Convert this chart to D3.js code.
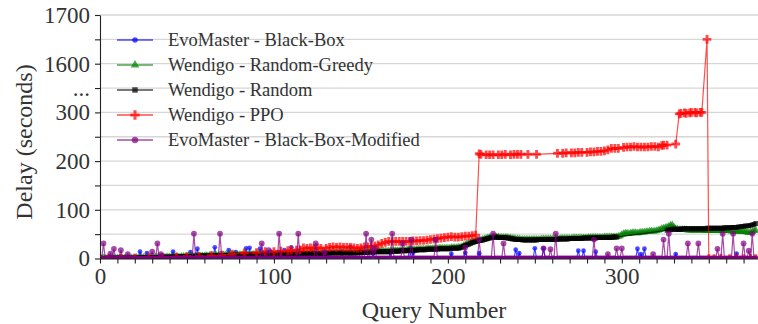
<!DOCTYPE html>
<html lang="en">
<head>
<meta charset="UTF-8">
<title>Delay per Query</title>
<script src="https://cdnjs.cloudflare.com/ajax/libs/d3/7.8.5/d3.min.js"></script>
<style>
  body { margin: 0; background: #fff; }
  svg { display: block; font-family: 'Liberation Serif', 'DejaVu Serif', serif; color: #222; }
  .grid line { stroke: #d6d6d6; stroke-width: 1.3; }
  .axis path, .axis line { stroke: #222; stroke-width: 1.1; }
  .axis text { font-size: 23px; fill: #333; font-family: 'Liberation Serif', serif; }
  .legend text { font-size: 18.5px; fill: #333; }
</style>
</head>
<body>
<div id="chart"></div>
<script>
// ---- data ----
// EvoMaster - Black-Box, one value per query 0..377
var blackBox = [
  0,0,0,0,0,0,0,0,0,0,0,0,0,0,0,0,0,0,0,0,
  0,0,0,14,0,0,0,11,0,0,0,0,0,0,0,0,0,0,0,0,
  0,0,14,0,0,0,0,0,0,0,0,0,13,0,0,0,20,0,0,0,
  0,0,0,0,0,0,23,0,0,0,0,0,0,0,17,0,0,0,13,0,
  0,0,0,0,21,0,22,0,0,0,0,0,20,0,0,0,0,0,14,0,
  0,0,0,0,0,0,17,0,0,0,23,0,0,0,0,0,0,0,0,11,
  0,0,14,0,0,0,0,0,0,0,0,0,0,0,0,0,0,0,0,14,
  0,0,0,0,24,0,0,0,0,0,17,0,0,0,0,0,0,11,0,0,
  0,0,0,0,0,0,0,13,0,0,0,0,0,0,0,0,0,0,21,0,
  12,0,0,0,0,0,0,0,0,0,0,0,0,0,0,0,0,0,0,0,
  0,0,10,0,0,0,0,0,0,0,12,0,0,0,0,0,0,0,11,0,
  0,0,0,0,0,0,0,0,0,0,0,0,0,0,0,0,0,0,0,18,
  0,11,0,0,0,0,0,0,0,0,21,0,0,0,0,21,0,0,0,0,
  0,0,0,0,0,0,0,0,0,0,0,0,0,0,0,16,0,0,16,0,
  0,0,0,0,0,14,0,0,0,0,0,0,0,0,0,0,0,0,0,0,
  0,0,0,0,0,0,0,0,0,20,0,9,0,20,0,0,0,0,0,0,
  0,0,0,0,0,0,0,0,0,0,0,9,0,0,0,0,0,0,0,0,
  0,0,0,0,0,0,0,0,0,0,0,0,0,0,0,0,0,0,0,0,
  0,0,0,0,0,0,10,0,0,0,0,0,0,0,0,0,0,0
];

// Wendigo - Random-Greedy
var randomGreedy = [
  0,0,1,0,0,1,0,1,1,0,1,1,1,0,1,1,1,1,1,1,
  1,2,1,1,2,2,1,2,2,2,2,2,3,2,2,3,3,2,3,3,
  3,3,3,3,4,3,3,4,4,4,4,4,5,4,4,5,5,5,5,5,
  5,6,5,6,6,6,6,6,6,7,6,7,7,7,7,7,7,7,8,7,
  8,8,8,8,8,8,8,8,9,8,9,9,9,9,9,9,9,9,9,9,
  9,9,9,9,10,9,10,10,10,10,10,10,10,10,10,10,10,10,11,11,
  11,11,11,11,11,11,11,11,11,11,11,11,11,12,12,12,12,12,12,12,
  12,12,12,12,12,12,12,13,13,13,13,13,13,13,14,14,14,14,14,15,
  15,15,15,15,15,15,15,16,16,16,16,16,16,17,17,17,17,17,18,18,
  18,18,18,19,19,19,19,19,20,20,20,20,20,20,20,21,21,21,21,21,
  21,21,22,22,22,22,23,23,24,26,28,30,31,32,34,35,36,37,38,38,
  39,40,41,42,43,43,44,44,44,44,43,43,43,43,43,42,42,41,41,40,
  40,40,39,39,39,39,39,39,39,39,39,39,39,39,40,40,40,40,40,40,
  40,40,40,40,40,41,41,41,41,41,41,41,42,42,42,42,42,42,42,42,
  42,43,43,43,43,43,43,43,43,43,44,44,44,44,44,44,44,44,45,46,
  49,51,52,52,51,52,53,53,53,52,53,54,54,54,55,55,56,56,56,56,
  57,58,59,61,62,63,64,66,68,69,64,61,60,59,59,59,59,59,58,58,
  58,58,58,58,58,58,58,58,57,57,57,57,57,57,57,57,57,57,57,57,
  57,57,57,56,56,56,56,56,55,55,55,55,54,53,54,55,57,58
];

// Wendigo - Random (null = no result for that query)
var random = [
  0,0,0,0,1,0,0,1,0,1,1,0,1,1,0,1,1,1,0,1,
  1,1,1,2,1,2,2,1,2,2,2,2,2,2,2,3,2,3,3,2,
  3,3,3,3,3,3,4,3,4,4,4,4,4,4,5,4,5,5,5,5,
  5,5,5,5,6,5,6,6,6,6,6,6,6,7,6,7,7,7,7,7,
  7,7,7,7,8,7,8,8,8,8,8,8,8,8,8,9,8,9,9,9,
  9,9,9,9,9,9,9,9,9,9,9,9,9,9,9,9,10,10,10,10,
  10,10,10,10,10,10,10,10,10,10,11,11,11,11,11,11,11,11,11,11,
  11,11,11,11,11,11,11,11,11,12,12,12,12,12,12,13,13,13,13,14,
  14,14,14,14,14,14,14,14,15,15,15,15,15,16,16,16,16,16,17,17,
  17,17,17,18,18,18,18,18,19,19,19,19,19,19,19,20,20,20,20,20,
  20,20,21,21,21,21,21,22,23,25,27,28,29,31,33,34,35,36,37,37,
  38,39,40,41,42,43,43,44,44,43,43,43,43,43,42,42,41,40,40,39,
  39,39,39,38,38,38,38,38,38,38,38,38,39,39,39,39,39,39,39,39,
  39,39,39,40,40,40,40,40,40,40,41,41,41,41,41,41,41,41,42,42,
  42,42,42,42,42,42,43,43,43,43,43,43,43,43,43,44,44,44,null,null,
  null,null,null,null,null,null,null,null,null,null,null,null,null,null,null,null,null,null,null,null,
  null,null,null,null,null,null,58,59,59,60,60,60,60,60,60,61,61,61,61,61,
  61,61,61,61,61,61,61,61,61,62,62,62,62,62,62,62,62,62,62,63,
  63,63,63,64,64,64,64,65,65,66,66,67,67,67,68,69,70,72
];

// Wendigo - PPO, [query, delay]
var ppo = [
  [0,0],[5,0],[12,1],[20,1],[28,2],[36,2],[44,3],[50,4],[57,4],[64,6],[70,7],[76,9],[83,11],[90,12],
  [95,14],[100,14],[104,15],[108,16],[110,17],[113,17],[115,18],[117,22],[119,21],[121,22],[123,21],
  [125,22],[127,21],[130,21],[132,23],[134,24],[136,23],[138,24],[140,23],[142,23],[144,23],[146,22],
  [148,21],[150,22],[152,24],[154,24],[156,25],[158,26],[160,28],[162,31],[164,33],[166,35],[168,35],
  [170,35],[172,35],[174,35],[176,35],[178,35],[180,36],[182,36],[184,37],[186,37],[188,38],[190,39],
  [192,40],[194,41],[196,42],[198,43],[200,44],[202,45],[204,44],[206,44],[208,45],[210,46],[212,46],
  [214,47],[216,48],
  [218,215],[219,214],[222,213],[224,213],[226,213],[229,213],[231,213],[233,214],[236,213],[238,214],
  [240,214],[242,214],[246,214],[251,214],[263,216],[266,216],[268,217],[271,217],[273,217],[275,218],
  [277,218],[280,218],[282,219],[284,219],[286,220],[288,220],[290,221],[292,223],[294,226],[296,226],
  [298,226],[301,228],[303,229],[305,229],[307,230],[309,229],[311,229],[313,229],[315,229],[317,230],
  [319,230],[321,229],[323,232],[324,233],[326,233],[331,235],
  [333,297],[334,298],[336,299],[337,298],[339,299],[340,300],[342,300],[343,299],[345,300],[346,300],
  [349,1650],[350,0],[353,0],[357,1],[362,0],[366,1],[370,0],[374,1],[377,0]
];

// EvoMaster - Black-Box-Modified, one value per query 0..377
var blackBoxModified = [
  0,0,31,0,0,0,10,0,20,0,0,0,17,0,0,0,9,0,0,0,
  0,0,0,0,0,0,0,0,0,0,14,0,0,31,0,9,0,0,0,0,
  0,0,0,0,0,0,0,0,0,0,0,0,0,0,51,0,0,0,0,0,
  0,0,0,0,0,0,0,0,0,51,0,0,0,0,0,0,0,0,0,0,
  0,0,0,0,0,0,0,0,0,0,0,0,0,31,0,0,0,17,0,0,
  0,0,0,51,0,0,0,0,0,0,0,0,0,0,51,0,0,0,0,0,
  0,0,0,0,31,0,0,0,0,13,0,0,0,0,0,0,0,0,0,0,
  0,0,0,0,0,0,0,0,0,0,0,0,0,51,0,0,39,0,21,0,
  0,0,0,0,0,0,0,0,51,0,0,0,0,0,31,0,0,0,0,39,
  0,0,0,0,0,0,0,0,0,0,0,0,0,39,0,0,0,0,0,0,
  0,0,0,0,0,0,0,0,0,0,23,0,0,0,0,0,0,0,39,0,
  0,0,0,0,0,0,51,0,0,0,0,0,31,0,0,0,0,0,0,0,
  0,0,0,0,0,0,0,0,0,0,0,0,0,0,0,21,0,0,0,19,
  0,0,51,0,0,0,0,0,0,0,0,0,0,0,0,0,0,0,0,0,
  0,0,0,0,39,0,0,0,0,0,0,0,9,0,0,0,0,21,0,0,
  21,0,0,0,0,0,0,0,0,0,0,0,0,0,0,0,0,0,9,0,
  0,0,0,0,39,0,0,51,0,0,0,0,0,0,0,0,0,0,31,0,
  0,0,0,0,31,0,0,0,0,0,0,0,0,0,0,20,0,0,51,0,
  0,0,0,0,51,0,0,0,0,0,31,0,0,16,0,51,0,0
];

var seriesNames = ["EvoMaster - Black-Box", "Wendigo - Random-Greedy", "Wendigo - Random",
                   "Wendigo - PPO", "EvoMaster - Black-Box-Modified"];

// y axis is broken between 300 and 1550
var yTickValues = [0, 50, 100, 150, 200, 250, 300, 1550, 1600, 1650, 1700];
var yTickLabels = {0: "0", 100: "100", 200: "200", 300: "300", 1550: "...", 1600: "1600", 1700: "1700"};
var xTickValues = d3.range(0, 371, 10);
var xTickLabels = [0, 100, 200, 300];

// ---- layout ----
var width = 758, height = 324;
var plotLeft = 100, plotTop = 15, plotBottom = 258.5, plotRight = 758;
var step = (plotBottom - plotTop) / 10;

var x = d3.scaleLinear().domain([0, 378.3]).range([plotLeft, plotRight]);
var y = d3.scaleLinear()
    .domain([0, 300, 1550, 1700])
    .range([plotBottom, plotBottom - 6 * step, plotBottom - 7 * step, plotTop]);

var svg = d3.select("#chart").append("svg")
    .attr("width", width)
    .attr("height", height);

svg.append("defs").append("clipPath").attr("id", "plotclip")
  .append("rect")
    .attr("x", plotLeft).attr("y", plotTop - 2)
    .attr("width", plotRight - plotLeft).attr("height", plotBottom - plotTop + 2);

// gridlines
svg.append("g").attr("class", "grid")
  .selectAll("line")
  .data(yTickValues)
  .enter().append("line")
    .attr("x1", plotLeft).attr("x2", plotRight)
    .attr("y1", function(d) { return y(d); })
    .attr("y2", function(d) { return y(d); });

// series
function toPoints(arr) {
    var pts = [];
    arr.forEach(function(v, i) { if (v !== null) pts.push([i, v]); });
    return pts;
}

var series = [
    {name: seriesNames[0], color: "#0000ff", symbol: d3.symbolCircle, size: 18, points: toPoints(blackBox)},
    {name: seriesNames[1], color: "#008000", symbol: d3.symbolTriangle, size: 26, points: toPoints(randomGreedy)},
    {name: seriesNames[2], color: "#000000", symbol: d3.symbolSquare, size: 24, points: toPoints(random)},
    {name: seriesNames[3], color: "#ff0000", symbol: d3.symbolCross, size: 42, points: ppo},
    {name: seriesNames[4], color: "#800080", symbol: d3.symbolCircle, size: 26, points: toPoints(blackBoxModified)}
];

var line = d3.line()
    .x(function(d) { return x(d[0]); })
    .y(function(d) { return y(d[1]); });

var plot = svg.append("g").attr("clip-path", "url(#plotclip)");

series.forEach(function(s) {
    var g = plot.append("g");
    g.append("path")
        .datum(s.points)
        .attr("d", line)
        .attr("fill", "none")
        .attr("stroke", s.color)
        .attr("stroke-opacity", 0.7)
        .attr("stroke-width", 1.2);
    g.selectAll("path.mark")
        .data(s.points)
        .enter().append("path")
        .attr("class", "mark")
        .attr("d", d3.symbol().type(s.symbol).size(s.size))
        .attr("transform", function(d) { return "translate(" + x(d[0]) + "," + y(d[1]) + ")"; })
        .attr("fill", s.color)
        .attr("fill-opacity", 0.7);
});

// axes
var yAxis = d3.axisLeft(y)
    .tickValues(yTickValues)
    .tickFormat(function(d) { return yTickLabels[d] || ""; })
    .tickSize(5).tickSizeOuter(0).tickPadding(5);
svg.append("g").attr("class", "axis")
    .attr("transform", "translate(" + plotLeft + ",0)")
    .call(yAxis);

var xAxis = d3.axisBottom(x)
    .tickValues(xTickValues)
    .tickFormat(function(d) { return xTickLabels.indexOf(d) >= 0 ? d : ""; })
    .tickSize(5).tickSizeOuter(0).tickPadding(4);
svg.append("g").attr("class", "axis")
    .attr("transform", "translate(0," + plotBottom + ")")
    .call(xAxis);

// axis titles
svg.append("text")
    .attr("x", 434).attr("y", 318)
    .attr("text-anchor", "middle")
    .style("font-size", "24px").style("fill", "#333")
    .text("Query Number");

svg.append("text")
    .attr("transform", "translate(32,142) rotate(-90)")
    .attr("text-anchor", "middle")
    .style("font-size", "24px").style("fill", "#333")
    .text("Delay (seconds)");

// legend
var legend = svg.append("g").attr("class", "legend");
series.forEach(function(s, i) {
    var ly = 40 + i * 25;
    legend.append("line")
        .attr("x1", 117).attr("x2", 153)
        .attr("y1", ly).attr("y2", ly)
        .attr("stroke", s.color).attr("stroke-opacity", 0.7).attr("stroke-width", 1.5);
    legend.append("path")
        .attr("d", d3.symbol().type(s.symbol).size(s.size + 6))
        .attr("transform", "translate(135," + ly + ")")
        .attr("fill", s.color).attr("fill-opacity", 0.7);
    legend.append("text")
        .attr("x", 168).attr("y", ly)
        .attr("dy", "0.35em")
        .text(s.name);
});
</script>
</body>
</html>
